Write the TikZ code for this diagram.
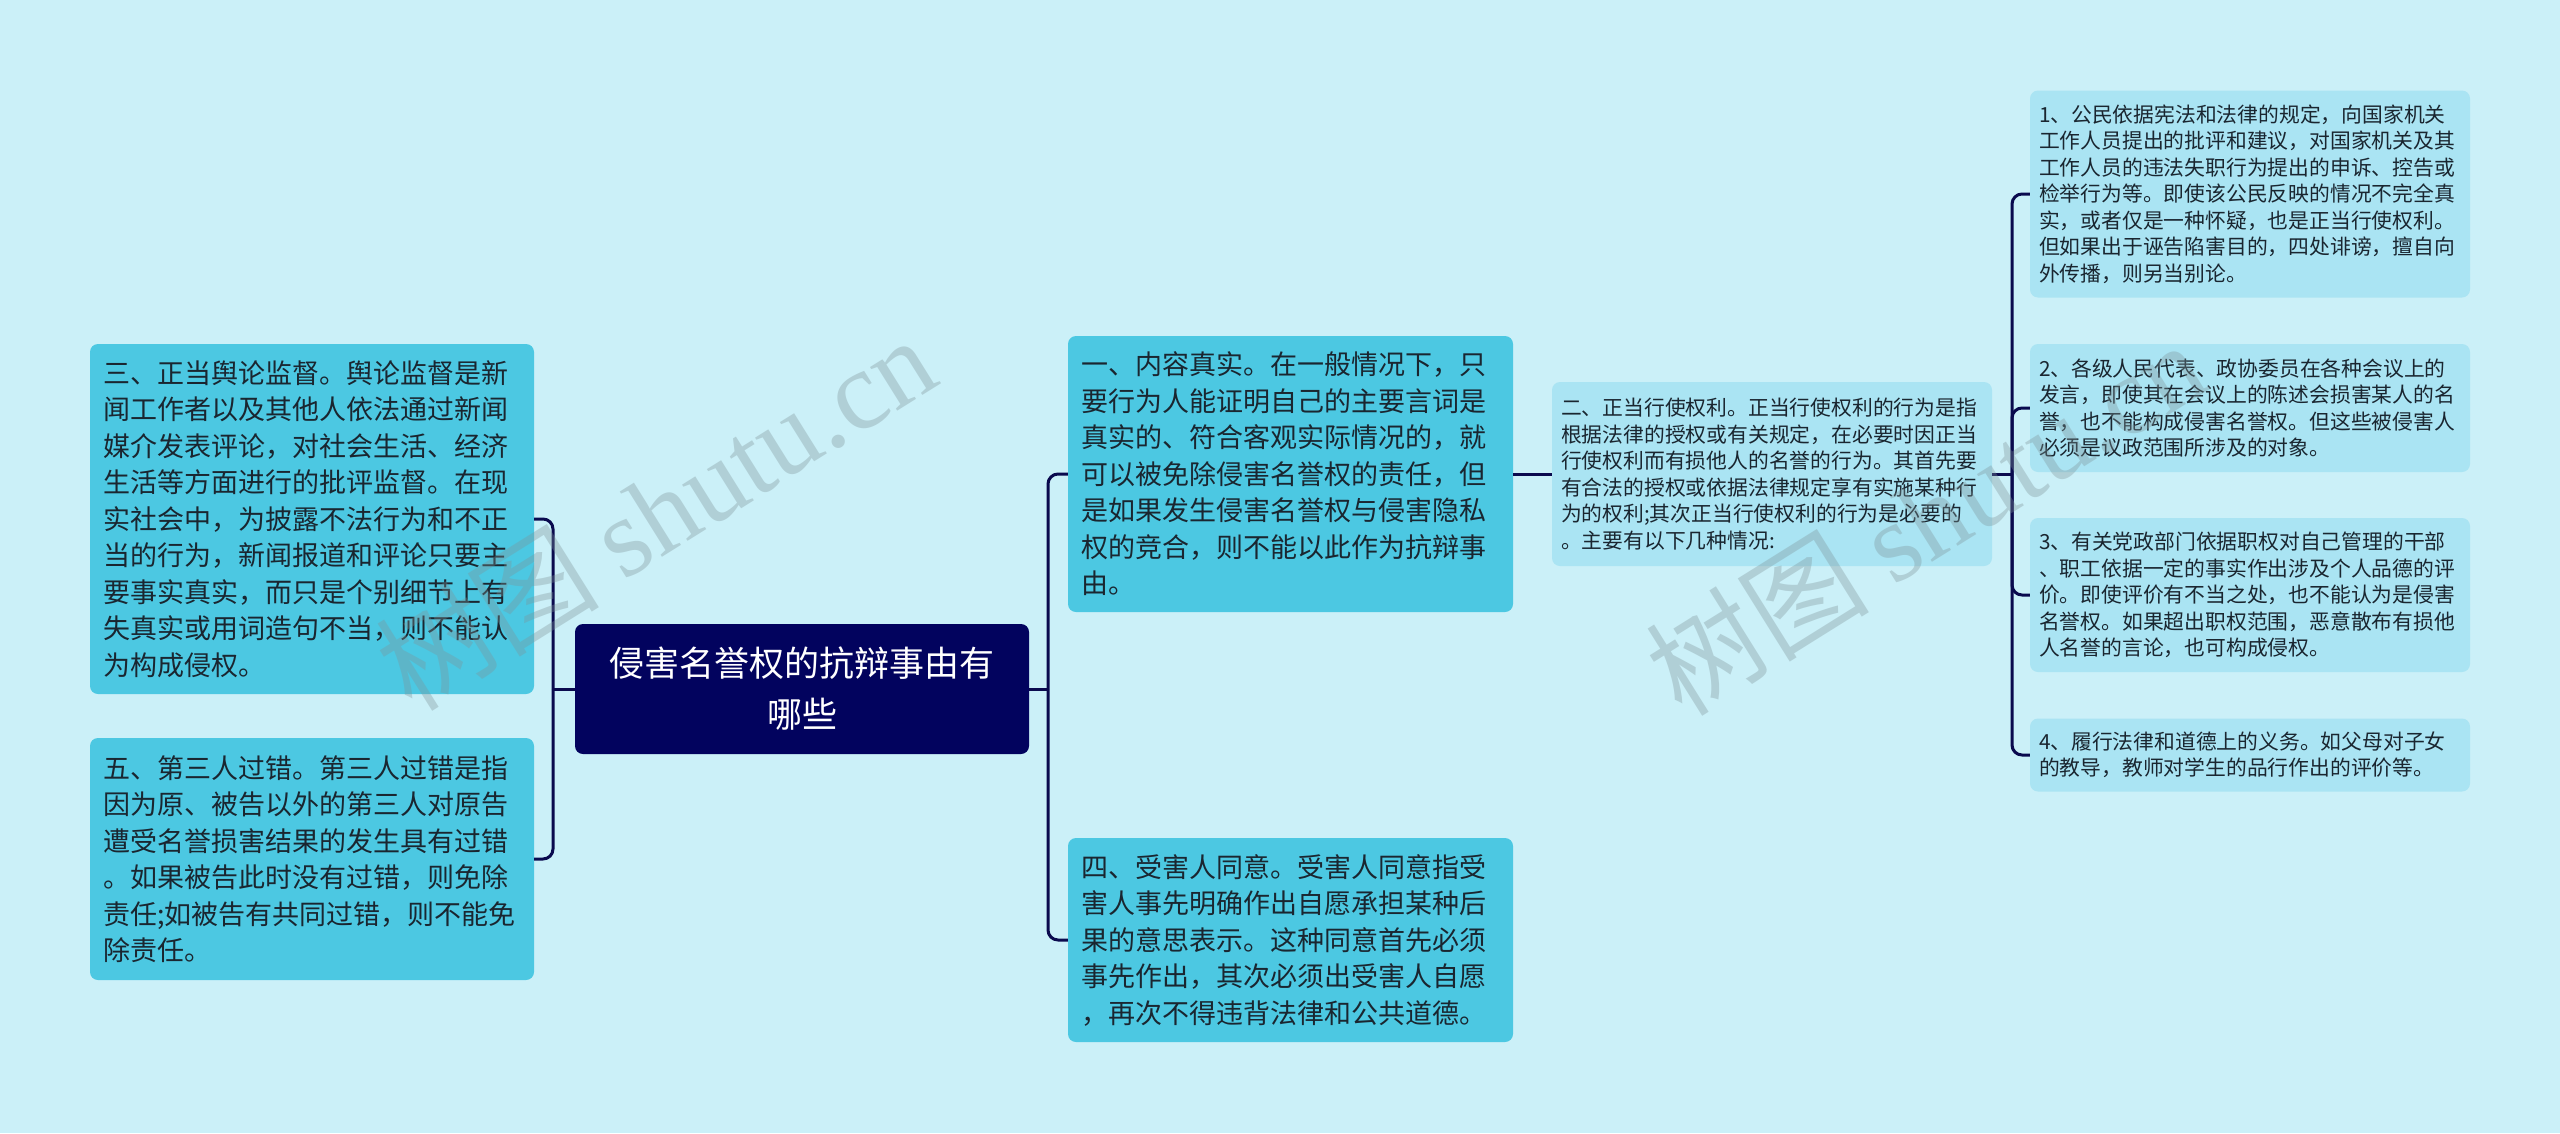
\documentclass[tikz,border=0pt]{standalone}
\usepackage{fontspec}
\setmainfont{Noto Sans CJK SC}
\newfontfamily\wmlatin{Liberation Serif}
\newfontfamily\wmcjk{Noto Sans CJK SC}
\definecolor{bgc}{HTML}{CBF0F8}
\definecolor{lonec}{HTML}{4CC8E2}
\definecolor{ltwoc}{HTML}{AAE4F3}
\definecolor{rootc}{HTML}{02035E}
\definecolor{connc}{HTML}{0A0A4E}
\definecolor{txtc}{HTML}{1A2630}
\definecolor{wmc}{HTML}{7E9398}
\tikzset{
  boxbase/.style={rounded corners=8pt, draw=none, text=txtc, align=left, inner ysep=0pt},
  levone/.style={boxbase, fill=lonec, inner xsep=13pt, text width=418pt,
    font=\fontsize{27}{36.5}\selectfont},
  levtwo/.style={boxbase, fill=ltwoc, inner xsep=9pt, text width=422pt,
    font=\fontsize{20.8}{26.5}\selectfont},
  rootbox/.style={rounded corners=8pt, fill=rootc, text=white, align=center,
    inner xsep=20pt, inner ysep=0pt, text width=414pt,
    font=\fontsize{35}{51}\selectfont},
  conn/.style={draw=connc, line width=3pt, rounded corners=10pt},
  wmark/.style={text=wmc, opacity=0.35, rotate=32, inner sep=0pt}
}
\begin{document}
\begin{tikzpicture}[x=1pt,y=-1pt]
\fill[bgc] (0,0) rectangle (2560,1133);
\useasboundingbox (0,0) rectangle (2560,1133);

% root
\node[rootbox, minimum width=454pt, minimum height=130pt] (root) at (802,689)
  {侵害名誉权的抗辩事由有\\哪些};

% left level one
\node[levone, minimum width=444pt, minimum height=350pt] (n3) at (312,519)
  {三、正当舆论监督。舆论监督是新\\闻工作者以及其他人依法通过新闻\\媒介发表评论，对社会生活、经济\\生活等方面进行的批评监督。在现\\实社会中，为披露不法行为和不正\\当的行为，新闻报道和评论只要主\\要事实真实，而只是个别细节上有\\失真实或用词造句不当，则不能认\\为构成侵权。};
\node[levone, minimum width=444pt, minimum height=242pt] (n5) at (312,859)
  {五、第三人过错。第三人过错是指\\因为原、被告以外的第三人对原告\\遭受名誉损害结果的发生具有过错\\。如果被告此时没有过错，则免除\\责任;如被告有共同过错，则不能免\\除责任。};

% right level one
\node[levone, minimum width=445pt, minimum height=276pt] (n1) at (1290.5,474)
  {一、内容真实。在一般情况下，只\\要行为人能证明自己的主要言词是\\真实的、符合客观实际情况的，就\\可以被免除侵害名誉权的责任，但\\是如果发生侵害名誉权与侵害隐私\\权的竞合，则不能以此作为抗辩事\\由。};
\node[levone, minimum width=445pt, minimum height=204pt] (n4) at (1290.5,940)
  {四、受害人同意。受害人同意指受\\害人事先明确作出自愿承担某种后\\果的意思表示。这种同意首先必须\\事先作出，其次必须出受害人自愿\\，再次不得违背法律和公共道德。};

% level two
\node[levtwo, minimum width=440pt, minimum height=184pt] (n2) at (1772,474)
  {二、正当行使权利。正当行使权利的行为是指\\根据法律的授权或有关规定，在必要时因正当\\行使权利而有损他人的名誉的行为。其首先要\\有合法的授权或依据法律规定享有实施某种行\\为的权利;其次正当行使权利的行为是必要的\\。主要有以下几种情况:};

% level three
\node[levtwo, minimum width=440pt, minimum height=207pt] (a1) at (2250,194)
  {1、公民依据宪法和法律的规定，向国家机关\\工作人员提出的批评和建议，对国家机关及其\\工作人员的违法失职行为提出的申诉、控告或\\检举行为等。即使该公民反映的情况不完全真\\实，或者仅是一种怀疑，也是正当行使权利。\\但如果出于诬告陷害目的，四处诽谤，擅自向\\外传播，则另当别论。};
\node[levtwo, minimum width=440pt, minimum height=128pt] (a2) at (2250,408)
  {2、各级人民代表、政协委员在各种会议上的\\发言，即使其在会议上的陈述会损害某人的名\\誉，也不能构成侵害名誉权。但这些被侵害人\\必须是议政范围所涉及的对象。};
\node[levtwo, minimum width=440pt, minimum height=154pt] (a3) at (2250,595)
  {3、有关党政部门依据职权对自己管理的干部\\、职工依据一定的事实作出涉及个人品德的评\\价。即使评价有不当之处，也不能认为是侵害\\名誉权。如果超出职权范围，恶意散布有损他\\人名誉的言论，也可构成侵权。};
\node[levtwo, minimum width=440pt, minimum height=73pt] (a4) at (2250,755)
  {4、履行法律和道德上的义务。如父母对子女\\的教导，教师对学生的品行作出的评价等。};

% connectors
\coordinate (lj) at (553,689);
\coordinate (rj) at (1048,689);
\coordinate (tj) at (2012,474);
\draw[conn] (root.west) -- (lj);
\draw[conn] (lj) |- (n3.east);
\draw[conn] (lj) |- (n5.east);
\draw[conn] (root.east) -- (rj);
\draw[conn] (rj) |- (n1.west);
\draw[conn] (rj) |- (n4.west);
\draw[conn] (n1.east) -- (n2.west);
\draw[conn] (n2.east) -- (tj);
\draw[conn] (tj) |- (a1.west);
\draw[conn] (tj) |- (a2.west);
\draw[conn] (tj) |- (a3.west);
\draw[conn] (tj) |- (a4.west);

% watermarks
\node[wmark] (wm1) at (655,512) {\fontsize{112}{112}\selectfont\wmcjk 树图\ \wmlatin shutu.cn};
\node[wmark] (wm2) at (1925,517) {\fontsize{112}{112}\selectfont\wmcjk 树图\ \wmlatin shutu.cn};
\end{tikzpicture}
\end{document}
